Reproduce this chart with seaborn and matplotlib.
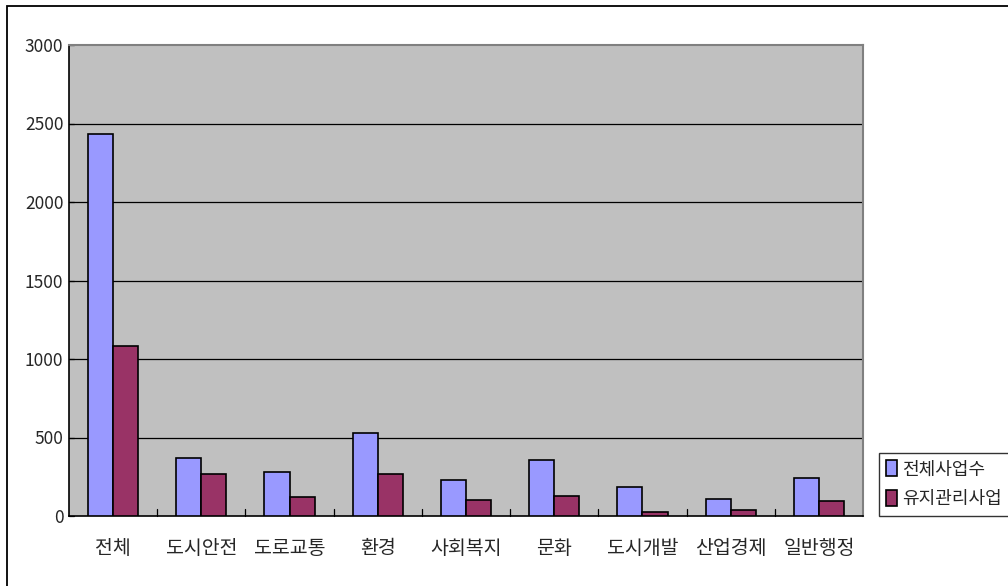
import matplotlib
matplotlib.use("Agg")
import matplotlib.pyplot as plt
import matplotlib.patches as mpatches
import seaborn as sns
import pandas as pd

categories = ["전체", "도시안전", "도로교통", "환경", "사회복지", "문화", "도시개발", "산업경제", "일반행정"]
total_projects = [2433, 369, 280, 529, 229, 357, 185, 106, 240]
maintenance_projects = [1083, 268, 121, 268, 105, 127, 27, 38, 97]
series_names = ["전체사업수", "유지관리사업"]
series_colors = ["#9999FF", "#993366"]
y_ticks = [0, 500, 1000, 1500, 2000, 2500, 3000]

df = pd.DataFrame({
    "category": categories * 2,
    "value": total_projects + maintenance_projects,
    "series": [series_names[0]] * len(categories) + [series_names[1]] * len(categories),
})

sns.set_theme(style="white")
plt.rcParams["font.family"] = ["Noto Sans CJK KR", "DejaVu Sans"]

fig = plt.figure(figsize=(10.08, 5.86), dpi=100)
W, H = 1008, 586
ax = fig.add_axes([69 / W, (H - 516) / H, (863 - 69) / W, (516 - 45) / H])
ax.set_facecolor("#C0C0C0")

sns.barplot(data=df, x="category", y="value", hue="series", order=categories,
            hue_order=series_names, palette=series_colors, width=0.57,
            edgecolor="black", linewidth=1.2, saturation=1, ax=ax, legend=False,
            zorder=3)

ax.set_ylim(0, 3000)
ax.set_xlim(-0.5, len(categories) - 0.5)
ax.set_yticks(y_ticks)
ax.set_yticklabels([str(t) for t in y_ticks], fontsize=12.5)
ax.set_xticks(range(len(categories)))
ax.set_xticklabels(categories, fontsize=14)
ax.tick_params(axis="x", length=0, pad=16)
ax.tick_params(axis="y", length=0, pad=4)
ax.set_xlabel("")
ax.set_ylabel("")

# horizontal gridlines
for t in y_ticks[1:-1]:
    ax.axhline(t, color="black", linewidth=0.9, zorder=1)

# inward category separator ticks on the x axis
for b in range(1, len(categories)):
    ax.plot([b - 0.5, b - 0.5], [0, 45], color="black", linewidth=0.9, zorder=2, clip_on=False)
# small ticks on the y axis
for t in y_ticks:
    ax.plot([-0.5, -0.44], [t, t], color="black", linewidth=0.9, zorder=2, clip_on=False)

for side in ["top", "right"]:
    ax.spines[side].set_color("#808080")
    ax.spines[side].set_linewidth(1.5)
for side in ["left", "bottom"]:
    ax.spines[side].set_color("black")
    ax.spines[side].set_linewidth(1.2)
    ax.spines[side].set_visible(True)

handles = [mpatches.Patch(facecolor=c, edgecolor="black", linewidth=1.2, label=n)
           for c, n in zip(series_colors, series_names)]
leg = fig.legend(handles=handles, loc="upper left",
                 bbox_to_anchor=(879 / W, 1 - 453 / H), frameon=True,
                 fontsize=13, handlelength=0.6, handleheight=1.0, handletextpad=0.3,
                 borderpad=0.4, labelspacing=0.65, fancybox=False, borderaxespad=0)
leg.get_frame().set_edgecolor("black")
leg.get_frame().set_linewidth(1.0)

# outer chart border (top and left edges visible)
fig.patches.append(mpatches.Rectangle((7 / W, -0.05), 1.2, 1 - 6 / H + 0.05,
                                      transform=fig.transFigure, fill=False,
                                      edgecolor="black", linewidth=1.3))

fig.savefig("out.png", dpi=100)
